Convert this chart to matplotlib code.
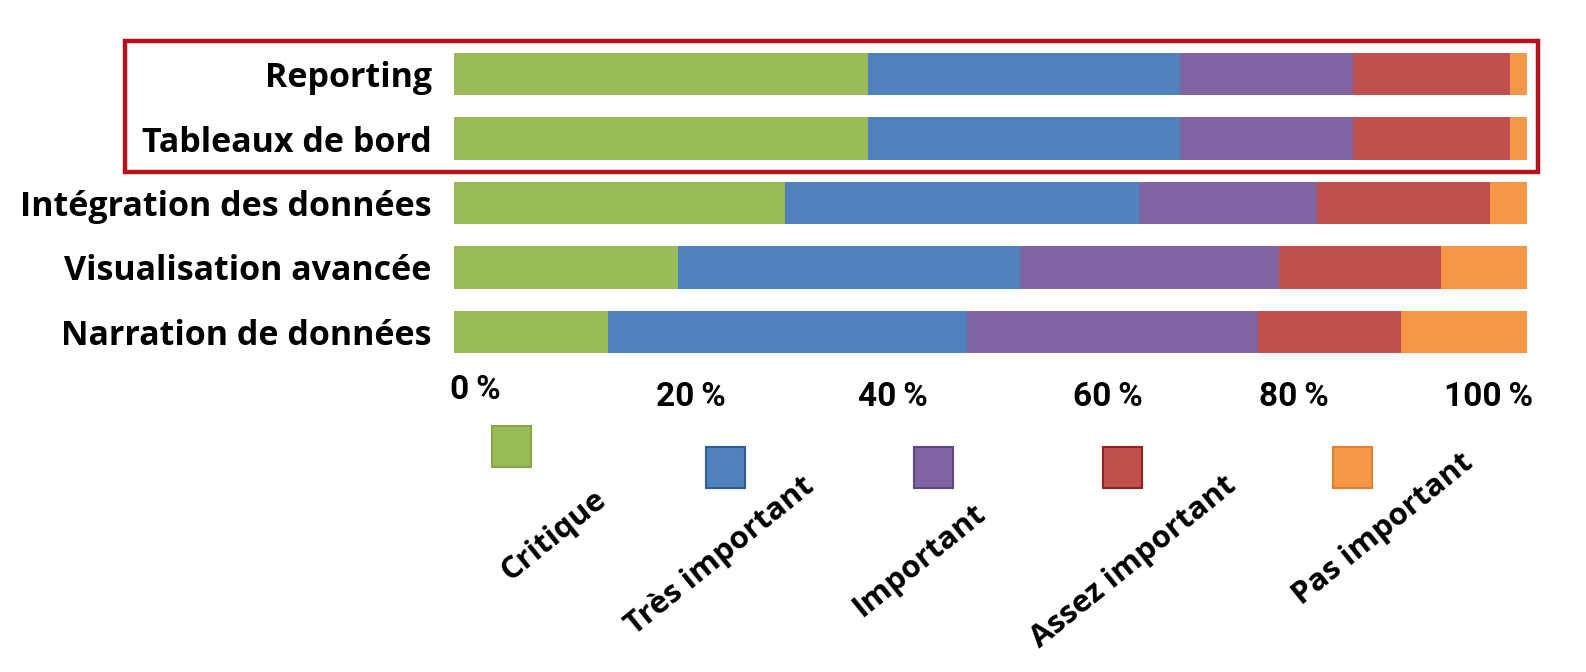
import matplotlib
matplotlib.use("Agg")
import matplotlib.pyplot as plt
from matplotlib.patches import Rectangle
import matplotlib.transforms as mtransforms

categories = ["Reporting", "Tableaux de bord", "Intégration des données",
              "Visualisation avancée", "Narration de données"]
levels = ["Critique", "Très important", "Important", "Assez important", "Pas important"]
colors = ["#9BBB59", "#4F81BD", "#8064A2", "#C0504D", "#F79646"]
edge_colors = ["#86A644", "#2E5E96", "#5E4680", "#951F22", "#E07F30"]

critique = [38.6, 38.6, 30.9, 20.9, 14.4]
tres_important = [29.1, 29.1, 33.0, 31.9, 33.4]
important = [16.1, 16.1, 16.6, 24.1, 27.2]
assez_important = [14.7, 14.7, 16.1, 15.1, 13.3]
pas_important = [1.5, 1.5, 3.4, 8.0, 11.7]
series = [critique, tres_important, important, assez_important, pas_important]

tick_values = [0, 20, 40, 60, 80, 100]
tick_labels = ["0\u2009%", "20\u2009%", "40\u2009%", "60\u2009%", "80\u2009%", "100\u2009%"]
# where the labels sit on the printed scale (irregular in the source image)
tick_positions = [2.0, 22.1, 40.9, 61.0, 78.3, 96.5]

W, H = 1586, 672
fig = plt.figure(figsize=(W / 100, H / 100), dpi=100)
fig.patch.set_facecolor("white")

ax = fig.add_axes([454 / W, 1 - 364.25 / H, 1072.5 / W, 322.5 / H])
y = list(range(len(categories)))
left = [0.0] * len(categories)
for vals, col, lab in zip(series, colors, levels):
    ax.barh(y, vals, left=left, height=0.66, color=col, label=lab, edgecolor="none")
    left = [a + b for a, b in zip(left, vals)]

ax.set_xlim(0, 100)
ax.set_ylim(4.5, -0.5)
for s in ax.spines.values():
    s.set_visible(False)
ax.set_yticks(y)
ax.set_yticklabels(categories, fontsize=24.5, fontweight="bold",
                   family=["Open Sans", "DejaVu Sans"])
ax.tick_params(axis="y", length=0, pad=16)
ax.set_xticks(tick_positions)
ax.set_xticklabels(tick_labels, fontsize=24, fontweight="bold",
                   family=["Roboto", "DejaVu Sans"])
ax.tick_params(axis="x", length=0, pad=12)
lbls = ax.get_xticklabels()
lbls[0].set_transform(lbls[0].get_transform() +
                      mtransforms.ScaledTranslation(0, 7 / 100, fig.dpi_scale_trans))

# overlay in figure pixel coordinates for legend and highlight box
ov = fig.add_axes([0, 0, 1, 1], facecolor="none")
ov.set_xlim(0, W)
ov.set_ylim(H, 0)
ov.axis("off")

ov.add_patch(Rectangle((124.5, 40.5), 1413, 131.5, fill=False,
                       edgecolor="#B5121B", linewidth=3.2))

sq_x = [492, 706, 914, 1103, 1333]
sq_y = [426, 447, 447, 447, 447]
txt_top = [(593, 484), (801, 471), (973, 498), (1223, 470), (1460, 448)]
for i, (lab, col) in enumerate(zip(levels, colors)):
    ov.add_patch(Rectangle((sq_x[i], sq_y[i]), 39, 41, facecolor=col,
                           edgecolor=edge_colors[i], linewidth=1.5))
    ov.text(txt_top[i][0], txt_top[i][1], lab, rotation=39, rotation_mode="anchor",
            ha="right", va="top", fontsize=22.5, fontweight="bold",
            family=["Open Sans", "DejaVu Sans"])

fig.savefig("out.png", dpi=100, facecolor="white")
